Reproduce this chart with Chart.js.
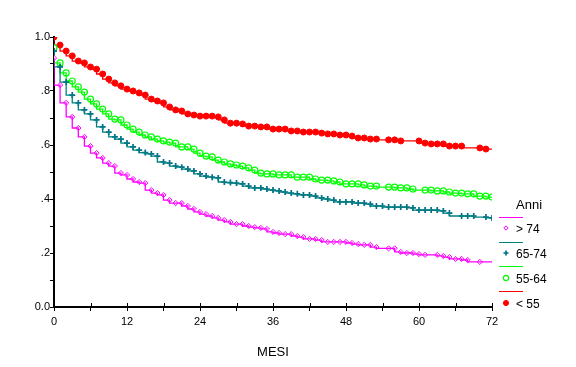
<!DOCTYPE html>
<html>
<head>
<meta charset="utf-8">
<script src="https://cdn.jsdelivr.net/npm/chart.js@4.4.1/dist/chart.umd.min.js"></script>
<style>
    html, body { margin: 0; padding: 0; background: #fff; }
</style>
</head>
<body>
<canvas id="km-chart" width="576" height="367"></canvas>
<script>
// survival by age group (month, survival)
const groupLabels = ["> 74", "65-74", "55-64", "< 55"];
const legendTitle = "Anni";
const axisTitle = "MESI";
const lastMonth = 72;

const timesOver74 = [0,1,2,3,4,5,6,7,8,9,10,11,12,13,14,15,16,17,18,19,20,21,22,23,24,25,26,27,28,29,30,31,32,33,34,35,36,37,38,39,40,41,42,43,44,45,46,47,48,49,50,51,52,53,55,56,57,58,59,60,61,63,64,65,66,67,68,70];
const survOver74 = [0.922,0.822,0.756,0.704,0.663,0.63,0.596,0.57,0.552,0.533,0.522,0.496,0.489,0.474,0.463,0.459,0.433,0.422,0.415,0.396,0.385,0.385,0.374,0.363,0.352,0.344,0.337,0.33,0.322,0.315,0.307,0.307,0.3,0.296,0.293,0.289,0.278,0.274,0.27,0.27,0.263,0.259,0.252,0.252,0.248,0.241,0.241,0.241,0.241,0.237,0.233,0.23,0.23,0.222,0.217,0.217,0.204,0.2,0.2,0.196,0.193,0.193,0.189,0.185,0.178,0.178,0.174,0.167];

const times65to74 = [0,1,2,3,4,5,6,7,8,9,10,11,12,13,14,15,16,17,18,19,20,21,22,23,24,25,26,27,28,29,30,31,32,33,34,35,36,37,38,39,40,41,42,43,44,45,46,47,48,49,50,51,52,53,54,55,56,57,58,59,60,61,62,63,64,65,67,68,69,71,72];
const surv65to74 = [0.948,0.889,0.833,0.785,0.756,0.73,0.715,0.693,0.667,0.648,0.63,0.622,0.607,0.593,0.581,0.572,0.567,0.559,0.537,0.533,0.522,0.518,0.511,0.504,0.493,0.485,0.481,0.478,0.463,0.461,0.459,0.456,0.448,0.441,0.441,0.437,0.433,0.43,0.426,0.422,0.419,0.415,0.415,0.411,0.404,0.4,0.396,0.389,0.389,0.389,0.385,0.385,0.381,0.374,0.374,0.37,0.37,0.37,0.37,0.367,0.359,0.359,0.359,0.359,0.356,0.348,0.337,0.337,0.337,0.333,0.33];

const times55to64 = [0,1,2,3,4,5,6,7,8,9,10,11,12,13,14,15,16,17,18,19,20,21,22,23,24,25,26,27,28,29,30,31,32,33,34,35,36,37,38,39,40,41,42,43,44,45,46,47,48,49,50,51,52,53,55,56,57,58,59,61,62,63,64,65,66,67,68,69,70,71,72];
const surv55to64 = [0.96,0.904,0.867,0.837,0.815,0.796,0.77,0.752,0.733,0.715,0.696,0.693,0.674,0.659,0.648,0.637,0.63,0.622,0.615,0.611,0.607,0.593,0.593,0.585,0.57,0.559,0.556,0.544,0.537,0.53,0.526,0.522,0.515,0.507,0.496,0.493,0.493,0.489,0.489,0.489,0.481,0.481,0.481,0.474,0.47,0.47,0.467,0.463,0.456,0.456,0.456,0.452,0.448,0.448,0.444,0.444,0.441,0.441,0.437,0.433,0.433,0.43,0.43,0.426,0.422,0.422,0.419,0.419,0.411,0.411,0.407];

const timesUnder55 = [0,1,2,3,4,5,6,7,8,9,10,11,12,13,14,15,16,17,18,19,20,21,22,23,24,25,26,27,28,29,30,31,32,33,34,35,36,37,38,39,40,41,42,43,44,45,46,47,48,49,50,51,52,53,55,56,57,60,61,62,63,64,65,66,67,70,71];
const survUnder55 = [1.0,0.97,0.948,0.93,0.911,0.904,0.889,0.881,0.863,0.844,0.83,0.819,0.807,0.8,0.793,0.785,0.77,0.763,0.756,0.741,0.73,0.726,0.715,0.711,0.707,0.707,0.707,0.704,0.693,0.681,0.681,0.678,0.67,0.67,0.667,0.667,0.659,0.659,0.659,0.652,0.652,0.648,0.648,0.648,0.644,0.641,0.641,0.637,0.637,0.633,0.626,0.626,0.622,0.622,0.619,0.619,0.615,0.615,0.607,0.604,0.604,0.604,0.596,0.596,0.596,0.589,0.585];

const FONT = '"Liberation Sans", Arial, sans-serif';

const groups = [
    { label: groupLabels[0], times: timesOver74, surv: survOver74, color: "#ff00ff",
      point: { style: "rectRot", radius: 2.6, border: 1, fill: "#ffffff", stroke: "#ff00ff" } },
    { label: groupLabels[1], times: times65to74, surv: surv65to74, color: "#008080",
      point: { style: "cross", radius: 3, border: 1.7, fill: "#0070c0", stroke: "#00708a" } },
    { label: groupLabels[2], times: times55to64, surv: surv55to64, color: "#00ff00",
      point: { style: "circle", radius: 3, border: 1.2, fill: "#ffffff", stroke: "#00ff00" } },
    { label: groupLabels[3], times: timesUnder55, surv: survUnder55, color: "#ff0000",
      point: { style: "circle", radius: 3, border: 1, fill: "#ff0000", stroke: "#ff0000" } },
];

const toPoints = (times, surv) => times.map((t, i) => ({ x: t, y: surv[i] }));

const datasets = [];
groups.forEach((g) => {
    const pts = toPoints(g.times, g.surv);
    datasets.push({
        label: g.label,
        data: pts.concat([{ x: lastMonth, y: g.surv[g.surv.length - 1] }]),
        showLine: true,
        stepped: "after",
        borderColor: g.color,
        borderWidth: 1.3,
        pointRadius: 0,
    });
    datasets.push({
        label: g.label + " censurati",
        data: pts,
        showLine: false,
        pointStyle: g.point.style,
        pointRadius: g.point.radius,
        pointBorderWidth: g.point.border,
        pointBorderColor: g.point.stroke,
        pointBackgroundColor: g.point.fill,
    });
});

// ticks crossing the x axis, and the legend with its line-over-marker rows
const extrasPlugin = {
    id: "kmExtras",
    afterDraw(chart) {
        const ctx = chart.ctx;
        const xs = chart.scales.x;
        ctx.save();
        ctx.strokeStyle = "#000";
        ctx.lineWidth = 1;
        xs.ticks.forEach((t) => {
            const px = Math.round(xs.getPixelForValue(t.value)) + 0.5;
            ctx.beginPath();
            ctx.moveTo(px, chart.chartArea.bottom - 4);
            ctx.lineTo(px, chart.chartArea.bottom);
            ctx.stroke();
        });

        ctx.fillStyle = "#000";
        ctx.font = "13px " + FONT;
        ctx.textBaseline = "middle";
        ctx.textAlign = "left";
        ctx.fillText(legendTitle, 516, 205);

        groups.forEach((g, i) => {
            const lineY = Math.round(217 + i * 24.7) + 0.5;
            const markY = 228 + i * 25;
            ctx.strokeStyle = g.color;
            ctx.lineWidth = 1;
            ctx.beginPath();
            ctx.moveTo(499, lineY);
            ctx.lineTo(523, lineY);
            ctx.stroke();

            ctx.fillStyle = g.point.fill;
            ctx.strokeStyle = g.point.stroke;
            ctx.lineWidth = g.point.border;
            Chart.helpers.drawPoint(ctx, {
                pointStyle: g.point.style,
                radius: g.point.radius * 0.85,
                borderWidth: g.point.border,
                rotation: 0,
            }, 506, markY);

            ctx.fillStyle = "#000";
            ctx.font = "12px " + FONT;
            ctx.fillText(g.label, 516, markY + 2);
        });
        ctx.restore();
    },
};

const ctx = document.querySelector("#km-chart");
new Chart(ctx, {
    type: "scatter",
    data: { datasets: datasets },
    options: {
        responsive: false,
        animation: false,
        layout: { padding: { top: 37, right: 84, bottom: 0, left: 0 } },
        plugins: {
            legend: { display: false },
            tooltip: { enabled: false },
        },
        scales: {
            x: {
                type: "linear",
                min: 0,
                max: lastMonth,
                afterFit: (scale) => { scale.height = 60; },
                border: { color: "#000", width: 2 },
                grid: { drawOnChartArea: false, drawTicks: true, tickLength: 4, color: "#000" },
                ticks: {
                    stepSize: 6,
                    padding: 4,
                    color: "#000",
                    font: { family: FONT, size: 11 },
                    maxRotation: 0,
                    autoSkip: false,
                    callback: (v) => (v % 12 === 0 ? String(v) : ""),
                },
                title: {
                    display: true,
                    text: axisTitle,
                    color: "#000",
                    font: { family: FONT, size: 13 },
                    padding: { top: 0, bottom: 7 },
                },
            },
            y: {
                min: 0,
                max: 1,
                afterFit: (scale) => { scale.width = 54; },
                border: { color: "#000", width: 2 },
                grid: { drawOnChartArea: false, drawTicks: true, tickLength: 4, color: "#000" },
                ticks: {
                    stepSize: 0.1,
                    padding: 0,
                    color: "#000",
                    font: { family: FONT, size: 11 },
                    autoSkip: false,
                    callback: (v) => {
                        const k = Math.round(v * 10);
                        if (k % 2 !== 0) return "";
                        if (k === 0) return "0.0";
                        if (k === 10) return "1.0";
                        return "." + k;
                    },
                },
            },
        },
    },
    plugins: [extrasPlugin],
});
</script>
</body>
</html>
